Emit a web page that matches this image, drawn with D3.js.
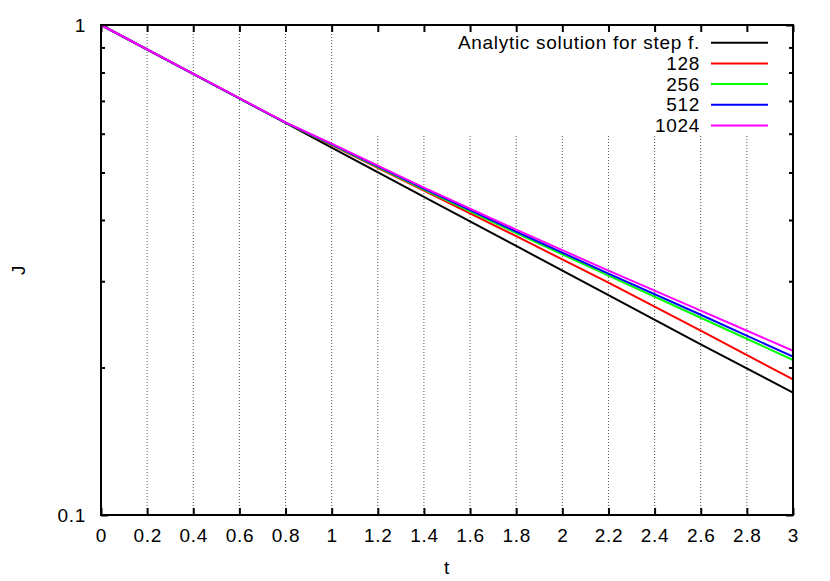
<!DOCTYPE html>
<html>
<head>
<meta charset="utf-8">
<script src="https://cdn.jsdelivr.net/npm/d3@7"></script>
<style>
  body { margin: 0; background: #fff; }
  text { font-family: "Liberation Sans", Arial, sans-serif; font-size: 19px; letter-spacing: 0.7px; fill: #000; }
</style>
</head>
<body>
<script>
// Data
var tValues = [0, 0.6, 0.8, 1, 1.4, 1.8, 2.2, 2.6, 3];
var analytic = [1, 0.708, 0.631, 0.562, 0.446, 0.354, 0.281, 0.223, 0.1777];
var n128 = [1, 0.708, 0.632, 0.5687, 0.4592, 0.3708, 0.2979, 0.2378, 0.1891];
var n256 = [1, 0.708, 0.632, 0.57, 0.4614, 0.3761, 0.3079, 0.2527, 0.2072];
var n512 = [1, 0.708, 0.632, 0.5714, 0.4635, 0.3787, 0.3108, 0.2563, 0.2104];
var n1024 = [1, 0.709, 0.633, 0.5727, 0.4657, 0.3823, 0.3152, 0.2612, 0.2164];

var seriesNames = ["Analytic solution for step f.", "128", "256", "512", "1024"];
var seriesColors = ["#000000", "#ff0000", "#00ff00", "#0000ff", "#ff00ff"];
var seriesValues = [analytic, n128, n256, n512, n1024];

var xTicks = [0, 0.2, 0.4, 0.6, 0.8, 1, 1.2, 1.4, 1.6, 1.8, 2, 2.2, 2.4, 2.6, 2.8, 3];
var yMajor = [0.1, 1];
var yMinor = [0.2, 0.3, 0.4, 0.5, 0.6, 0.7, 0.8, 0.9];

// SVG Wrapper
var svgWidth = 830, svgHeight = 581;
var margin = { top: 25, right: 37, bottom: 66, left: 101 };
var width = svgWidth - margin.left - margin.right;
var height = svgHeight - margin.top - margin.bottom;

var svg = d3.select("body").append("svg")
  .attr("width", svgWidth)
  .attr("height", svgHeight);

var chartGroup = svg.append("g")
  .attr("transform", `translate(${margin.left}, ${margin.top})`);

// Scales
var xScale = d3.scaleLinear().domain([0, 3]).range([0, width]);
var yScale = d3.scaleLog().domain([0.1, 1]).range([height, 0]);

// Grid lines (cut under the key box)
var keyBottom = 110;
chartGroup.selectAll(".grid")
  .data(xTicks.filter(d => d > 0 && d < 3))
  .enter().append("line")
  .attr("class", "grid")
  .attr("x1", d => xScale(d))
  .attr("x2", d => xScale(d))
  .attr("y1", height)
  .attr("y2", d => d > 1.1 ? keyBottom : 0)
  .attr("stroke", "#555")
  .attr("stroke-width", 1)
  .attr("stroke-dasharray", "1,2");

// Ticks, pointing inwards on all four sides
var xAxisBottom = d3.axisBottom(xScale).tickValues(xTicks).tickSize(-7).tickPadding(14)
  .tickFormat(d3.format("~g"));
var xAxisTop = d3.axisTop(xScale).tickValues(xTicks).tickSize(-7).tickFormat("");
var yAxisLeft = d3.axisLeft(yScale).tickValues(yMajor).tickSize(-7).tickPadding(15)
  .tickFormat(d3.format("~g"));
var yAxisRight = d3.axisRight(yScale).tickValues(yMajor).tickSize(-7).tickFormat("");
var yMinorLeft = d3.axisLeft(yScale).tickValues(yMinor).tickSize(-4).tickFormat("");
var yMinorRight = d3.axisRight(yScale).tickValues(yMinor).tickSize(-4).tickFormat("");

function styleAxis(g) {
  g.select(".domain").remove();
  g.selectAll(".tick line").attr("stroke", "#000").attr("stroke-width", 2);
  g.selectAll(".tick text").attr("font-size", null).attr("font-family", null);
}

chartGroup.append("g").attr("transform", `translate(0, ${height})`).call(xAxisBottom).call(styleAxis);
chartGroup.append("g").call(xAxisTop).call(styleAxis);
chartGroup.append("g").call(yAxisLeft).call(styleAxis);
chartGroup.append("g").attr("transform", `translate(${width}, 0)`).call(yAxisRight).call(styleAxis);
chartGroup.append("g").call(yMinorLeft).call(styleAxis);
chartGroup.append("g").attr("transform", `translate(${width}, 0)`).call(yMinorRight).call(styleAxis);

// Curves
var line = d3.line()
  .x((d, i) => xScale(tValues[i]))
  .y(d => yScale(d));

chartGroup.selectAll(".curve")
  .data(seriesValues)
  .enter().append("path")
  .attr("class", "curve")
  .attr("d", line)
  .attr("fill", "none")
  .attr("stroke", (d, i) => seriesColors[i])
  .attr("stroke-width", 2);

// Border
chartGroup.append("rect")
  .attr("width", width)
  .attr("height", height)
  .attr("fill", "none")
  .attr("stroke", "#000")
  .attr("stroke-width", 2);

// Key
var key = chartGroup.selectAll(".key")
  .data(seriesNames)
  .enter().append("g")
  .attr("class", "key")
  .attr("transform", (d, i) => `translate(0, ${17.7 + i * 20.7})`);

key.append("text")
  .attr("x", 599)
  .attr("dy", "0.35em")
  .attr("text-anchor", "end")
  .text(d => d);

key.append("line")
  .attr("x1", 610)
  .attr("x2", 667)
  .attr("stroke", (d, i) => seriesColors[i])
  .attr("stroke-width", 2);

// Axis labels
chartGroup.append("text")
  .attr("x", width / 2)
  .attr("y", height + 59)
  .attr("text-anchor", "middle")
  .text("t");

chartGroup.append("text")
  .attr("transform", `translate(${25 - margin.left}, ${height / 2}) rotate(-90)`)
  .attr("text-anchor", "middle")
  .text("J");
</script>
</body>
</html>
